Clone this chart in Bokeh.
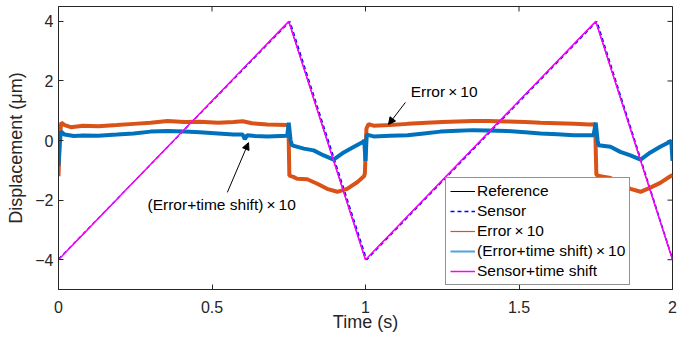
from bokeh.plotting import figure
from bokeh.models import (Range1d, Legend, LegendItem, Arrow,
                          NormalHead, Label, FixedTicker)
from bokeh.embed import file_html
from bokeh.resources import INLINE

# ---------------- data ----------------
ref_t = [0.0, 0.75, 1.0, 1.75, 2.0]
ref_y = [-4.0, 4.0, -4.0, 4.0, -4.0]

sensor_t = [0.0, 0.754, 1.004, 1.754, 2.0]
sensor_y = [-3.98, 4.0, -4.0, 4.0, -3.97]

shift_t = [0.0, 0.75, 1.0, 1.75, 2.0]
shift_y = [-4.0, 4.0, -4.0, 4.0, -4.0]

err_t = [0.0, 0.004, 0.009, 0.02, 0.04, 0.08, 0.13, 0.19, 0.245, 0.3, 0.355,
         0.41, 0.46, 0.52, 0.57, 0.6, 0.63, 0.68, 0.745, 0.749, 0.752, 0.765,
         0.777, 0.81, 0.843, 0.875, 0.908, 0.94, 0.973, 0.995, 0.998, 1.003,
         1.01, 1.026, 1.08, 1.137, 1.2, 1.25, 1.3, 1.35, 1.4, 1.46, 1.52, 1.57,
         1.625, 1.68, 1.73, 1.748, 1.752, 1.765, 1.798, 1.83, 1.863, 1.896,
         1.928, 1.96, 1.993, 2.0]
err_y = [-1.2, 0.1, 0.6, 0.52, 0.45, 0.5, 0.48, 0.52, 0.56, 0.6, 0.66,
         0.62, 0.63, 0.6, 0.62, 0.65, 0.58, 0.54, 0.52, 0.5, -1.18, -1.22,
         -1.28, -1.3, -1.45, -1.62, -1.72, -1.62, -1.4, -1.2, -1.1, 0.4,
         0.55, 0.5, 0.52, 0.56, 0.6, 0.62, 0.64, 0.66, 0.66, 0.64, 0.62, 0.6,
         0.58, 0.56, 0.54, 0.55, -1.15, -1.2, -1.26, -1.45, -1.62, -1.72,
         -1.58, -1.42, -1.2, -1.15]

errs_t = [0.0, 0.004, 0.008, 0.02, 0.05, 0.08, 0.13, 0.19, 0.245, 0.3, 0.355,
          0.41, 0.46, 0.52, 0.57, 0.6, 0.607, 0.615, 0.64, 0.68, 0.745, 0.75,
          0.756, 0.761, 0.799, 0.831, 0.864, 0.896, 0.929, 0.961, 0.99, 0.996,
          1.0, 1.004, 1.026, 1.08, 1.137, 1.19, 1.244, 1.3, 1.352, 1.4, 1.46,
          1.52, 1.57, 1.625, 1.678, 1.743, 1.75, 1.756, 1.759, 1.798, 1.83,
          1.863, 1.896, 1.928, 1.96, 1.99, 1.996, 2.0]
errs_y = [-0.85, -0.1, 0.3, 0.2, 0.15, 0.17, 0.16, 0.2, 0.24, 0.3, 0.32,
          0.3, 0.28, 0.24, 0.2, 0.2, 0.05, 0.18, 0.15, 0.14, 0.16, 0.6,
          0.0, -0.16, -0.27, -0.33, -0.5, -0.64, -0.4, -0.22, -0.06, 0.0,
          -0.68, 0.2, 0.14, 0.16, 0.18, 0.24, 0.3, 0.33, 0.35, 0.34, 0.32,
          0.28, 0.24, 0.21, 0.18, 0.18, 0.6, 0.0, -0.16, -0.21, -0.38,
          -0.5, -0.64, -0.4, -0.21, -0.05, 0.0, -0.68]

x_ticks = [0, 0.5, 1, 1.5, 2]
x_tick_labels = {0: "0", 0.5: "0.5", 1: "1", 1.5: "1.5", 2: "2"}
y_ticks = [-4, -2, 0, 2, 4]

labels = ["Reference", "Sensor", "Error\u2009\u00d7\u200910",
          "(Error+time shift)\u2009\u00d7\u200910", "Sensor+time shift"]

X_MIN, X_MAX = 0, 2
Y_MIN, Y_MAX = -5, 4.5

# ---------------- figure ----------------
FONT = "Liberation Sans"
AX = "#262626"

p = figure(width=689, height=339, output_backend="svg", toolbar_location=None,
           x_range=Range1d(X_MIN, X_MAX), y_range=Range1d(Y_MIN, Y_MAX),
           min_border_left=58, min_border_right=17, min_border_top=6,
           min_border_bottom=50,
           x_axis_label="Time (s)", y_axis_label="Displacement (\u03bcm)")
p.xgrid.grid_line_color = None
p.ygrid.grid_line_color = None
p.outline_line_color = AX
p.outline_line_width = 1
p.background_fill_color = "white"
p.border_fill_color = "white"

p.xaxis.ticker = FixedTicker(ticks=x_ticks)
p.xaxis.major_label_overrides = x_tick_labels
p.yaxis.ticker = FixedTicker(ticks=y_ticks)

for ax in (p.xaxis[0], p.yaxis[0]):
    ax.major_tick_in = 5
    ax.major_tick_out = 0
    ax.minor_tick_line_color = None
    ax.axis_line_color = AX
    ax.major_tick_line_color = AX
    ax.major_label_text_font = FONT
    ax.major_label_text_font_size = "16px"
    ax.major_label_text_color = AX
    ax.axis_label_text_font = FONT
    ax.axis_label_text_font_size = "18px"
    ax.axis_label_text_font_style = "normal"
    ax.axis_label_text_color = AX
p.xaxis.major_label_standoff = 11
p.xaxis.axis_label_standoff = -4
p.yaxis.major_label_standoff = 5
p.yaxis.axis_label_standoff = 6

# inward ticks on the top and right edges of the box (MATLAB "box on")
tick_dy = 5 / 29.8   # 5 px in data units
tick_dx = 5 / 307.0
p.segment(x0=x_ticks, y0=[Y_MAX] * len(x_ticks), x1=x_ticks,
          y1=[Y_MAX - tick_dy] * len(x_ticks), line_color=AX, line_width=1)
p.segment(x0=[X_MAX] * len(y_ticks), y0=y_ticks, x1=[X_MAX - tick_dx] * len(y_ticks),
          y1=y_ticks, line_color=AX, line_width=1)

# ---------------- series ----------------
NAN = float("nan")
r_ref = p.line(ref_t, ref_y, line_color="black", line_width=1)
r_sen = p.line(sensor_t, sensor_y, line_color="#0000FF", line_width=1.3, line_dash="4 3")
r_err = p.line(err_t, err_y, line_color="#D95319", line_width=4)
r_errs = p.line(errs_t, errs_y, line_color="#0072BD", line_width=4)
r_shift = p.line(shift_t, shift_y, line_color="#FF00FF", line_width=1.5)

# thin stand-ins for the legend swatches of the noisy error traces
l_err = p.line([NAN], [NAN], line_color="#D95319", line_width=1.2)
l_errs = p.line([NAN], [NAN], line_color="#4DA3DB", line_width=2)

legend = Legend(items=[LegendItem(label=labels[0], renderers=[r_ref]),
                       LegendItem(label=labels[1], renderers=[r_sen]),
                       LegendItem(label=labels[2], renderers=[l_err]),
                       LegendItem(label=labels[3], renderers=[l_errs]),
                       LegendItem(label=labels[4], renderers=[r_shift])],
                location=(387, 4), label_text_font=FONT, label_text_font_size="15.5px",
                label_text_color="black", glyph_width=25, glyph_height=18,
                label_height=18, spacing=2, padding=4, label_standoff=2, margin=0,
                border_line_color=AX, border_line_width=1,
                background_fill_color="white", background_fill_alpha=1)
p.add_layout(legend)

# ---------------- annotations ----------------
p.add_layout(Arrow(end=NormalHead(size=7, fill_color="black", line_color="black"),
                   x_start=1.130, y_start=1.28, x_end=1.075, y_end=0.54,
                   line_color="black", line_width=1))
p.add_layout(Arrow(end=NormalHead(size=7, fill_color="black", line_color="black"),
                   x_start=0.550, y_start=-1.74, x_end=0.619, y_end=-0.07,
                   line_color="black", line_width=1))
p.add_layout(Label(x=1.147, y=1.64, text=labels[2], text_baseline="middle",
                   text_align="left", text_font=FONT, text_font_size="15.5px",
                   text_color="black"))
p.add_layout(Label(x=0.29, y=-2.15, text=labels[3], text_baseline="middle",
                   text_align="left", text_font=FONT, text_font_size="15.5px",
                   text_color="black"))

open("out.html", "w").write(file_html(p, INLINE))
